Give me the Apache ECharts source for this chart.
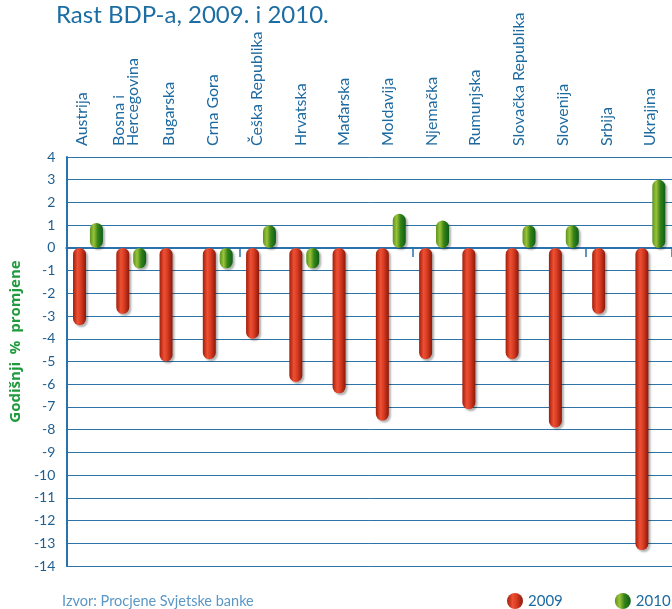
<!DOCTYPE html>
<html>
<head>
<meta charset="utf-8">
<title>Rast BDP-a, 2009. i 2010.</title>
<script src="https://cdn.jsdelivr.net/npm/echarts/dist/echarts.min.js"></script>
<style>
    html, body { margin: 0; padding: 0; background: #fff; }
    #chart { width: 672px; height: 609px; }
</style>
</head>
<body>
<div id="chart"></div>
<script>
    var categories = ['Austrija', 'Bosna i\nHercegovina', 'Bugarska', 'Crna Gora', 'Češka Republika',
        'Hrvatska', 'Mađarska', 'Moldavija', 'Njemačka', 'Rumunjska', 'Slovačka Republika',
        'Slovenija', 'Srbija', 'Ukrajina'];
    var rast2009 = [-3.4, -2.9, -5.0, -4.9, -4.0, -5.9, -6.4, -7.6, -4.9, -7.1, -4.9, -7.9, -2.9, -13.3];
    var rast2010 = [1.1, -0.9, '-', -0.9, 1.0, -0.9, '-', 1.5, 1.2, '-', 1.0, 1.0, '-', 3.0];
    var yMin = -14, yMax = 4, yStep = 1;

    var blue = '#1d6aa0';

    // cilindricni prijelaz boja
    var red = new echarts.graphic.LinearGradient(0, 0, 1, 0, [
        {offset: 0, color: '#a01e0c'},
        {offset: 0.35, color: '#ee5034'},
        {offset: 0.6, color: '#d83c22'},
        {offset: 1, color: '#8c180a'}
    ]);
    var green = new echarts.graphic.LinearGradient(0, 0, 1, 0, [
        {offset: 0, color: '#5a9420'},
        {offset: 0.3, color: '#9cc23a'},
        {offset: 0.6, color: '#368418'},
        {offset: 1, color: '#0c5e18'}
    ]);

    var option = {
        animation: false,
        title: [{
            text: 'Rast BDP-a, 2009. i 2010.',
            left: 56,
            top: 3,
            padding: 0,
            textStyle: {fontFamily: 'Lato', fontSize: 24, fontWeight: 'normal', color: '#1b6da3'}
        }, {
            text: 'Izvor: Procjene Svjetske banke',
            left: 62,
            top: 594,
            padding: 0,
            textStyle: {fontFamily: 'Lato', fontSize: 14.5, fontWeight: 'normal', color: '#5b97c6'}
        }],
        legend: {
            data: ['2009', '2010'],
            left: 507,
            top: 593,
            padding: 0,
            width: 170,
            icon: 'circle',
            itemWidth: 16,
            itemHeight: 16,
            itemGap: 52,
            textStyle: {fontFamily: 'Lato', fontSize: 15, color: blue}
        },
        grid: [
            {left: 64, top: 157, width: 612, height: 409},
            {left: 60, top: 157, width: 612, height: 409}
        ],
        xAxis: [{
            type: 'category',
            data: categories,
            gridIndex: 0,
            axisLine: {onZero: true, lineStyle: {color: '#2a72aa', width: 2}},
            axisTick: {show: true, length: 9, lineStyle: {color: '#2a72aa', width: 1.5}},
            axisLabel: {show: false},
            splitLine: {show: false}
        }, {
            type: 'category',
            data: categories,
            gridIndex: 1,
            position: 'top',
            axisLine: {show: false},
            axisTick: {show: false},
            axisLabel: {
                rotate: 90,
                margin: 11,
                interval: 0,
                fontFamily: 'Lato',
                fontSize: 16,
                lineHeight: 14,
                color: blue
            }
        }],
        yAxis: [{
            type: 'value',
            gridIndex: 0,
            min: yMin,
            max: yMax,
            interval: yStep,
            name: 'Godišnji  %  promjene',
            nameLocation: 'middle',
            nameGap: 33,
            nameTextStyle: {
                fontFamily: 'Open Sans',
                fontSize: 15,
                fontWeight: 'bold',
                color: '#1f9a3c',
                padding: [0, 0, 0, 40]
            },
            axisLine: {show: true, lineStyle: {color: '#2a72aa', width: 2}},
            axisTick: {show: false},
            axisLabel: {fontFamily: 'Lato', fontSize: 14, color: '#1f5f90', margin: 11},
            splitLine: {lineStyle: {color: '#2f74a8', width: 1}}
        }, {
            type: 'value',
            gridIndex: 1,
            show: false
        }],
        series: [{
            name: '2009',
            type: 'bar',
            data: rast2009,
            barWidth: 13,
            barGap: '30%',
            itemStyle: {
                color: red,
                borderRadius: 7,
                shadowColor: 'rgba(0,0,0,0.3)',
                shadowBlur: 2,
                shadowOffsetX: 2,
                shadowOffsetY: 2
            }
        }, {
            name: '2010',
            type: 'bar',
            data: rast2010,
            barWidth: 13,
            itemStyle: {
                color: green,
                borderRadius: 7,
                shadowColor: 'rgba(0,0,0,0.3)',
                shadowBlur: 2,
                shadowOffsetX: 2,
                shadowOffsetY: 2
            }
        }]
    };

    var myChart = echarts.init(document.getElementById('chart'));
    myChart.setOption(option);
</script>
</body>
</html>
